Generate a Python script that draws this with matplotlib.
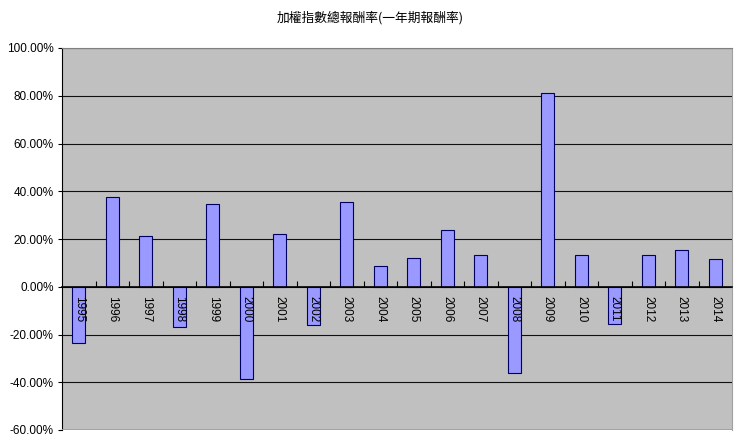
import matplotlib
matplotlib.use("Agg")
from matplotlib import pyplot as plt
from matplotlib.ticker import FuncFormatter

years = [str(y) for y in range(1995, 2015)]
returns = [-23.4, 37.6, 21.2, -17.0, 34.6, -38.5, 22.3, -16.0, 35.7, 8.7,
           12.1, 23.8, 13.2, -36.2, 81.3, 13.5, -15.7, 13.2, 15.2, 11.8]
title = "加權指數總報酬率(一年期報酬率)"

plt.rcParams['font.family'] = ['Noto Sans CJK TC', 'DejaVu Sans']

fig = plt.figure(figsize=(7.4, 4.43), dpi=100)
ax = fig.add_axes([62 / 740, 13 / 443, 670 / 740, 382 / 443])
ax.set_facecolor("#c0c0c0")

x = list(range(len(years)))
ax.bar(x, returns, width=0.39, color="#9999ff", edgecolor="#000060",
       linewidth=0.8, zorder=3)

ax.set_xlim(-0.5, len(years) - 0.5)
ax.set_ylim(-60, 100)
ax.set_yticks(range(-60, 101, 20))
ax.yaxis.set_major_formatter(FuncFormatter(lambda v, p: f"{v:.2f}%"))
ax.grid(axis="y", color="#101010", linewidth=0.8, zorder=1)
ax.tick_params(axis="y", length=3, labelsize=8.5, pad=3)
for lab in ax.get_yticklabels():
    lab.set_family("Liberation Sans")

# category axis sits on the zero line
ax.spines['bottom'].set_position(('data', 0))
ax.spines['bottom'].set_linewidth(1.2)
ax.spines['bottom'].set_zorder(4)
ax.set_xticks([i + 0.5 for i in x[:-1]])
ax.set_xticklabels([])
ax.tick_params(axis="x", direction="in", length=4, width=0.8)
ax.axhline(-60, color="#a0a0a0", linewidth=1.2, zorder=4)
ax.spines['left'].set_color("black")
ax.spines['top'].set_color("#808080")
ax.spines['right'].set_color("#a0a0a0")

for i, yr in enumerate(years):
    ax.annotate(yr, (i, 0), xytext=(0, -7), textcoords="offset points",
                rotation=270, ha="center", va="top", fontsize=8.5,
                family="Liberation Sans", zorder=5)

fig.text(370 / 740, 1 - 18 / 443, title, ha="center", va="center",
         fontsize=9.2)

fig.savefig("out.png", dpi=100)
